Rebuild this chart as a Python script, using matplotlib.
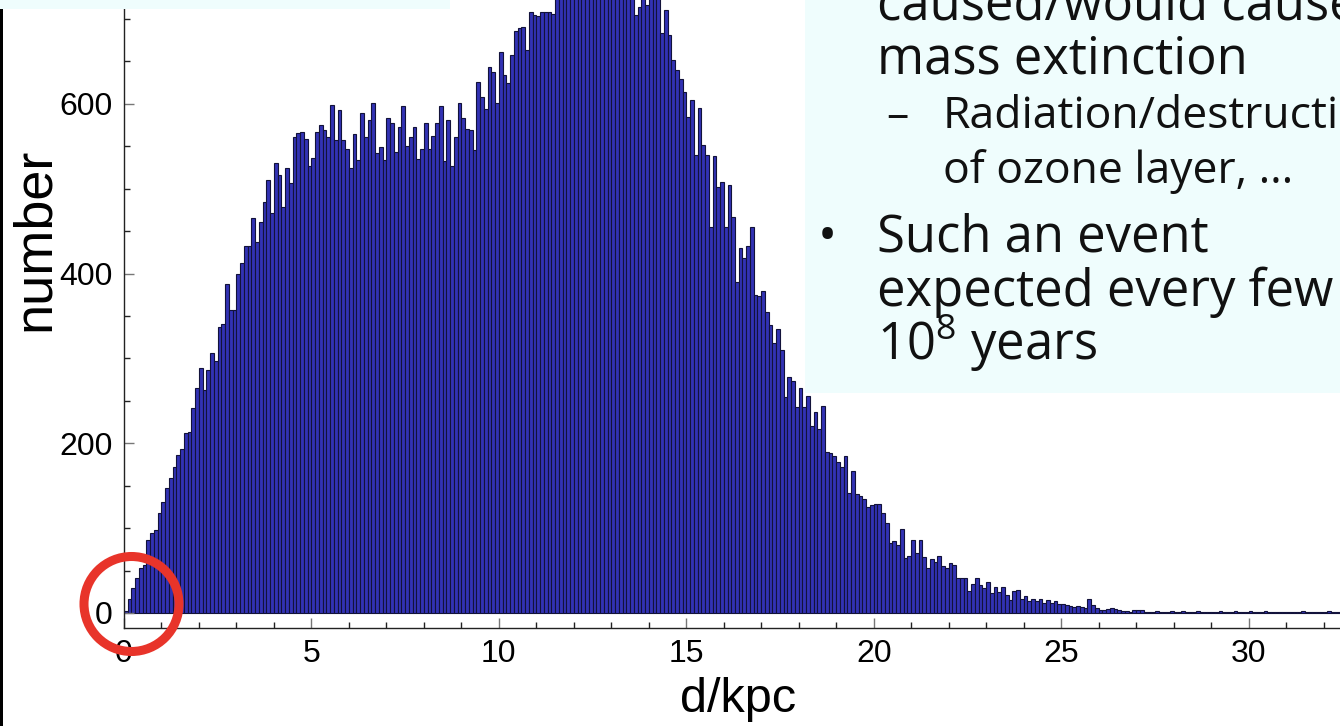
import matplotlib
matplotlib.use("Agg")
import matplotlib.pyplot as plt
import matplotlib.patches as mpatches
import numpy as np

# histogram counts, one value per 0.1 kpc bin
bin_width = 0.1
counts_rise = [2, 17, 29, 41, 53, 57, 86, 94, 98, 118, 131, 147, 159, 172, 186, 193,
               212, 213, 241, 265, 289, 263, 286, 306, 297, 337, 341, 388, 357, 357,
               400, 412, 433, 432, 465, 437, 461, 484, 510, 471, 530, 516, 479, 525,
               507, 561, 566, 567, 558, 527]
counts_plateau = [536, 567, 575, 569, 561, 599, 557, 593, 557, 547, 524, 564, 534, 589,
                  561, 581, 601, 542, 549, 534, 583, 578, 543, 573, 597, 550, 561, 573,
                  535, 547, 578, 547, 562, 578, 597, 533, 581, 527, 561, 601, 583, 570,
                  569, 546, 626, 608, 594, 643, 637, 601]
# bins 11.5-13.6 kpc run off the top of the slide, so these are guesses
counts_peak = [661, 634, 624, 658, 686, 689, 691, 663, 708, 705, 703, 708, 708, 708,
               706, 740, 752, 748, 765, 770, 758, 775, 781, 769, 790, 784, 795, 788,
               776, 792, 780, 771, 785, 762, 750, 741, 705, 714, 735, 716, 738, 730,
               728, 684, 711, 681, 652, 640, 629, 614]
counts_fall = [584, 604, 540, 595, 552, 540, 455, 539, 502, 508, 455, 504, 467, 390,
               430, 418, 432, 455, 375, 373, 379, 355, 339, 318, 335, 310, 255, 278,
               273, 243, 265, 243, 256, 220, 237, 217, 244, 190, 189, 185, 178, 172,
               185, 141, 167, 140, 138, 134, 125, 127]
counts_tail = [128, 129, 118, 106, 82, 85, 80, 99, 65, 67, 86, 71, 86, 66, 53, 64, 60,
               67, 55, 53, 59, 57, 41, 41, 41, 26, 34, 41, 33, 29, 37, 23, 31, 25, 31,
               21, 15, 26, 27, 16, 20, 14, 16, 14, 17, 12, 15, 12, 14, 10, 10, 9, 8, 7,
               8, 7, 6, 17, 9, 6, 3, 4, 5, 6, 5, 4, 2, 2, 1, 3, 4, 3, 1, 1, 1, 2, 1, 1,
               1, 2, 1, 1, 2, 1, 1, 1, 2, 1, 1, 1, 1, 1, 2, 1, 1, 1, 2, 1, 1, 1, 2, 1,
               1, 1, 2, 1, 1, 1, 1, 1, 1, 1, 1, 1, 2, 1, 1, 1, 1, 1, 1, 2, 1, 1, 1, 1]

x_ticks = [0, 5, 10, 15, 20, 25, 30]
y_ticks = [0, 200, 400, 600]

box_main = ["caused/would cause", "mass extinction"]
box_sub = ["Radiation/destruction", "of ozone layer, \u2026"]
box_bullet = ["Such an event", "expected every few", "10$^\\mathregular{8}$ years"]

counts = np.array(counts_rise + counts_plateau + counts_peak + counts_fall + counts_tail)
left_edges = np.arange(len(counts)) * bin_width

W, H = 1340, 726
fig = plt.figure(figsize=(W / 100, H / 100), dpi=100)
fig.patch.set_facecolor("white")

ax = fig.add_axes([124 / W, 98 / H, 1 - 124 / W, 628 / H])
ax.bar(left_edges, counts, width=bin_width, align="edge",
       facecolor="#3232b4", edgecolor="#12123a", linewidth=0.8)

ax.set_xlim(0, 32.44)
ax.set_ylim(-17.7, 722.4)
for side in ["top", "right"]:
    ax.spines[side].set_visible(False)
for side in ["left", "bottom"]:
    ax.spines[side].set_color("#222222")
    ax.spines[side].set_linewidth(1.0)

ax.set_xticks(x_ticks)
ax.set_xticks(np.arange(0, 33, 1), minor=True)
ax.set_yticks(y_ticks)
ax.set_yticks(np.arange(0, 750, 50), minor=True)
ax.tick_params(which="major", direction="in", length=7, width=1, color="#777777",
               labelsize=23, pad=8)
ax.tick_params(which="minor", direction="in", length=4.5, width=1, color="#222222")
ax.tick_params(axis="x", which="major", pad=8)
for lab in ax.get_xticklabels() + ax.get_yticklabels():
    lab.set_family("Liberation Sans")

fig.text(35 / W, 1 - 239 / H, "number", rotation=90, ha="center", va="center",
         fontsize=39, family="Liberation Sans")
fig.text(738 / W, 1 - 712 / H, "d/kpc", ha="center", va="baseline",
         fontsize=35, family="Liberation Sans")

# slide pieces round the plot
cyan = "#effdfd"
fig.add_artist(mpatches.Rectangle((805 / W, 1 - 393 / H), 1 - 805 / W, 393 / H,
                                  transform=fig.transFigure, facecolor=cyan,
                                  edgecolor="none", zorder=5))
fig.add_artist(mpatches.Rectangle((0, 1 - 9 / H), 450 / W, 9 / H,
                                  transform=fig.transFigure, facecolor=cyan,
                                  edgecolor="none", zorder=5))
fig.add_artist(mpatches.Rectangle((0, 0), 3 / W, 1 - 9 / H,
                                  transform=fig.transFigure, facecolor="black",
                                  edgecolor="none", zorder=5))

txt = dict(family="Open Sans", color="#111111", va="baseline", ha="left", zorder=6)
for line, base in zip(box_main, [19, 73]):
    fig.text(877 / W, 1 - base / H, line, fontsize=36.5, **txt)
fig.text(886 / W, 1 - 128 / H, "\u2013", fontsize=32, **txt)
for line, base in zip(box_sub, [128, 183]):
    fig.text(943 / W, 1 - base / H, line, fontsize=32, **txt)
fig.text(818 / W, 1 - 252 / H, "\u2022", fontsize=36.5, **txt)
for line, base in zip(box_bullet, [252, 306, 360]):
    fig.text(877 / W, 1 - base / H, line, fontsize=36.5, **txt)

# red circle round the origin
fig.add_artist(mpatches.Ellipse((131.5 / W, 1 - 604 / H), 95 / W, 95 / H,
                                transform=fig.transFigure, facecolor="none",
                                edgecolor="#e8342a", linewidth=6.5, zorder=7))

fig.savefig("out.png", dpi=100, facecolor="white")
